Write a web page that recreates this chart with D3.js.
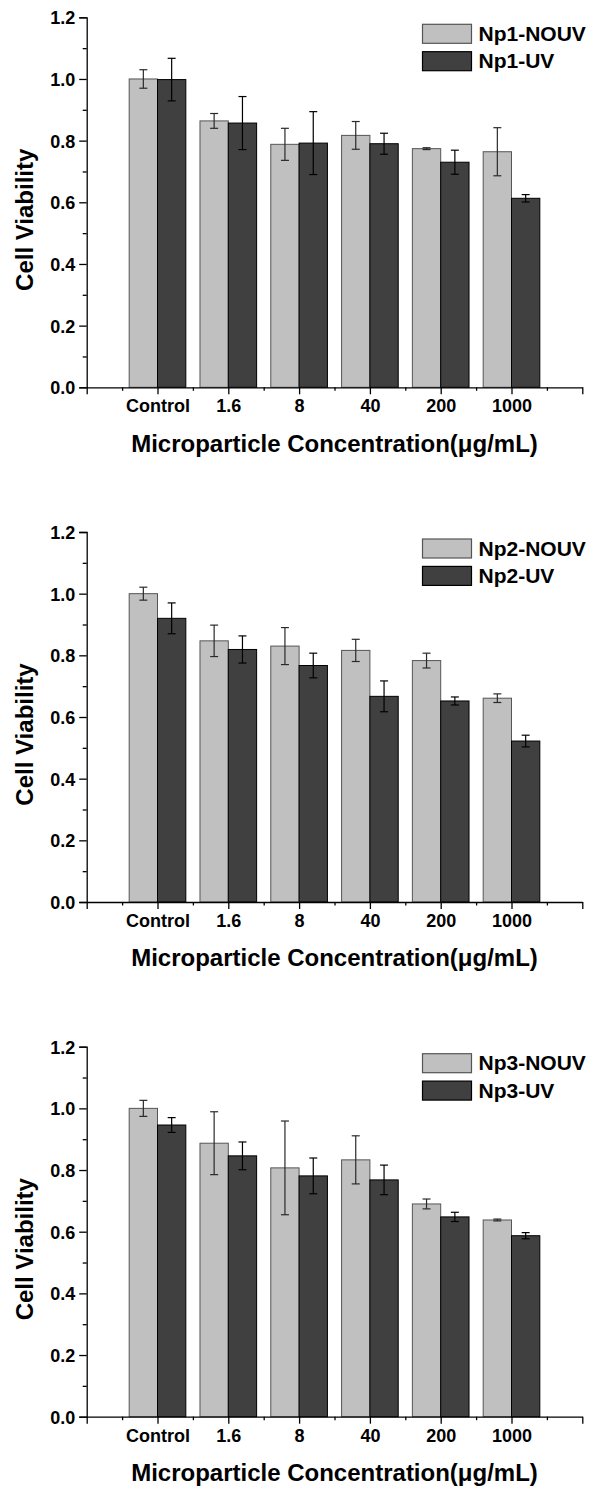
<!DOCTYPE html>
<html>
<head>
<meta charset="utf-8">
<script src="https://cdn.jsdelivr.net/npm/d3@7"></script>
<style>
  html, body { margin: 0; padding: 0; background: #fff; }
  svg { display: block; }
  text { font-family: "Liberation Sans", Arial, sans-serif; font-weight: bold; fill: #000; }
</style>
</head>
<body>
<svg id="chart" width="591" height="1488"></svg>
<script>
// Concentration groups along the x axis
const categories = ["Control", "1.6", "8", "40", "200", "1000"];

// Y axis tick values
const yMajorTicks = [0, 0.2, 0.4, 0.6, 0.8, 1.0, 1.2];
const yMinorTicks = [0.1, 0.3, 0.5, 0.7, 0.9, 1.1];

// Np1
const np1NouvMean = [1.000, 0.864, 0.788, 0.817, 0.774, 0.764];
const np1NouvErr  = [0.030, 0.024, 0.052, 0.045, 0.003, 0.078];
const np1UvMean   = [0.998, 0.857, 0.792, 0.790, 0.730, 0.613];
const np1UvErr    = [0.069, 0.086, 0.102, 0.034, 0.039, 0.012];

// Np2
const np2NouvMean = [1.000, 0.847, 0.830, 0.816, 0.783, 0.661];
const np2NouvErr  = [0.021, 0.051, 0.060, 0.036, 0.024, 0.014];
const np2UvMean   = [0.920, 0.819, 0.767, 0.667, 0.652, 0.522];
const np2UvErr    = [0.050, 0.044, 0.040, 0.050, 0.013, 0.019];

// Np3
const np3NouvMean = [1.000, 0.887, 0.807, 0.833, 0.690, 0.638];
const np3NouvErr  = [0.026, 0.102, 0.152, 0.078, 0.016, 0.003];
const np3UvMean   = [0.946, 0.846, 0.781, 0.768, 0.648, 0.587];
const np3UvErr    = [0.024, 0.045, 0.058, 0.048, 0.015, 0.010];

const seriesNames = [
  ["Np1-NOUV", "Np1-UV"],
  ["Np2-NOUV", "Np2-UV"],
  ["Np3-NOUV", "Np3-UV"]
];

const panels = [
  { names: seriesNames[0], nouv: np1NouvMean, nouvErr: np1NouvErr, uv: np1UvMean, uvErr: np1UvErr },
  { names: seriesNames[1], nouv: np2NouvMean, nouvErr: np2NouvErr, uv: np2UvMean, uvErr: np2UvErr },
  { names: seriesNames[2], nouv: np3NouvMean, nouvErr: np3NouvErr, uv: np3UvMean, uvErr: np3UvErr }
];

const svg = d3.select("#chart");

const plotLeft = 86.7, plotRight = 582.3;
const plotTop = 17.3, plotBottom = 387.3;
const panelStep = 514.7;

const lightFill = "#c0c0c0", lightStroke = "#555555";
const darkFill = "#404040", darkStroke = "#000000";

// x positions: categories sit on integer positions 1..6, axis spans 0..7
const x = d3.scaleLinear().domain([0, 7]).range([plotLeft, plotRight]);
const y = d3.scaleLinear().domain([0, 1.2]).range([plotBottom, plotTop]);
const barW = x(0.4) - x(0);

panels.forEach((p, pi) => {
  const g = svg.append("g").attr("transform", `translate(0,${pi * panelStep})`);

  const rows = categories.map((c, i) => ({
    i,
    nouv: p.nouv[i], nouvErr: p.nouvErr[i],
    uv: p.uv[i], uvErr: p.uvErr[i]
  }));

  // bars
  const bars = g.append("g");
  bars.selectAll("rect.nouv").data(rows).join("rect")
    .attr("class", "nouv")
    .attr("x", d => x(d.i + 1) - barW)
    .attr("y", d => y(d.nouv))
    .attr("width", barW)
    .attr("height", d => y(0) - y(d.nouv))
    .attr("fill", lightFill)
    .attr("stroke", lightStroke)
    .attr("stroke-width", 1);
  bars.selectAll("rect.uv").data(rows).join("rect")
    .attr("class", "uv")
    .attr("x", d => x(d.i + 1))
    .attr("y", d => y(d.uv))
    .attr("width", barW)
    .attr("height", d => y(0) - y(d.uv))
    .attr("fill", darkFill)
    .attr("stroke", darkStroke)
    .attr("stroke-width", 1);

  // error bars
  const drawErr = (cls, cxFn, mean, err, color) => {
    const eg = g.append("g").selectAll("g." + cls).data(rows).join("g")
      .attr("class", cls)
      .attr("stroke", color)
      .attr("stroke-width", 1.2);
    eg.append("line")
      .attr("x1", cxFn).attr("x2", cxFn)
      .attr("y1", d => y(d[mean] + d[err]))
      .attr("y2", d => y(d[mean] - d[err]));
    eg.append("line")
      .attr("x1", d => cxFn(d) - 4).attr("x2", d => cxFn(d) + 4)
      .attr("y1", d => y(d[mean] + d[err]))
      .attr("y2", d => y(d[mean] + d[err]));
    eg.append("line")
      .attr("x1", d => cxFn(d) - 4).attr("x2", d => cxFn(d) + 4)
      .attr("y1", d => y(d[mean] - d[err]))
      .attr("y2", d => y(d[mean] - d[err]));
  };
  drawErr("enouv", d => x(d.i + 1) - barW / 2, "nouv", "nouvErr", "#2a2a2a");
  drawErr("euv", d => x(d.i + 1) + barW / 2, "uv", "uvErr", "#000");

  // y axis
  const yAxis = g.append("g").attr("transform", `translate(${plotLeft},0)`)
    .call(d3.axisLeft(y).tickValues(yMajorTicks).tickSize(7.5).tickPadding(4)
      .tickFormat(d3.format(".1f")));
  g.append("g").attr("transform", `translate(${plotLeft},0)`)
    .call(d3.axisLeft(y).tickValues(yMinorTicks).tickSize(4).tickFormat(""))
    .call(a => a.select(".domain").remove());
  yAxis.selectAll("text").style("font-size", "18px").attr("dy", "0.36em");

  // x axis
  const xAxis = g.append("g").attr("transform", `translate(0,${plotBottom})`)
    .call(d3.axisBottom(x).tickValues(d3.range(0, 8)).tickSize(7).tickSizeOuter(0)
      .tickFormat(v => categories[v - 1] || ""));
  g.append("g").attr("transform", `translate(0,${plotBottom})`)
    .call(d3.axisBottom(x).tickValues(d3.range(0.5, 7, 1)).tickSize(3.5).tickFormat(""))
    .call(a => a.select(".domain").remove());
  xAxis.selectAll("text").style("font-size", "18px").attr("y", 0).attr("dy", 25);

  g.selectAll(".domain, .tick line").attr("stroke", "#000").attr("stroke-width", 1.3);

  // axis titles
  g.append("text")
    .attr("x", (plotLeft + plotRight) / 2)
    .attr("y", plotBottom + 64.4)
    .attr("text-anchor", "middle")
    .style("font-size", "24px")
    .text("Microparticle Concentration(\u03bcg/mL)");
  g.append("text")
    .attr("transform", `translate(32.5,${plotTop + 202.5}) rotate(-90)`)
    .attr("text-anchor", "middle")
    .style("font-size", "24px")
    .text("Cell Viability");

  // legend
  const legend = g.append("g").attr("transform", `translate(422.5,${plotTop + 7})`);
  const items = [
    { name: p.names[0], fill: lightFill, stroke: lightStroke },
    { name: p.names[1], fill: darkFill, stroke: darkStroke }
  ];
  items.forEach((it, k) => {
    const row = legend.append("g").attr("transform", `translate(0,${k * 27.4})`);
    row.append("rect").attr("width", 49).attr("height", 19)
      .attr("fill", it.fill).attr("stroke", it.stroke).attr("stroke-width", 1.2);
    row.append("text").attr("x", 56).attr("y", 16.5)
      .style("font-size", "21px").text(it.name);
  });
});
</script>
</body>
</html>
